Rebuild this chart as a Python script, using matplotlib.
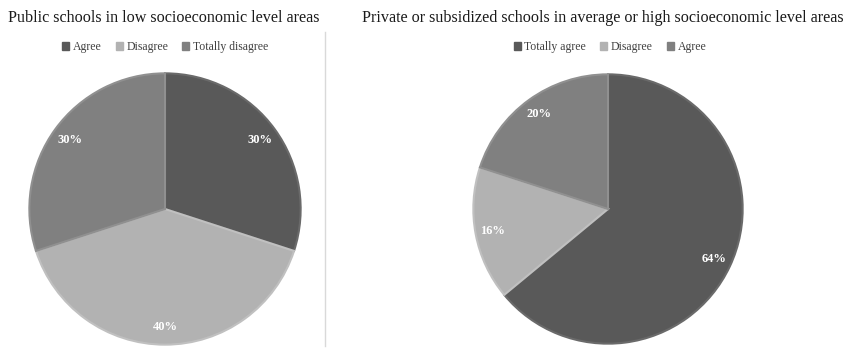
import matplotlib.pyplot as plt
from matplotlib.lines import Line2D
from matplotlib.patches import Patch

plt.rcParams['font.family'] = ['Liberation Serif', 'DejaVu Serif']

# data
left_title = 'Public schools in low socioeconomic level areas'
left_labels = ['Agree', 'Disagree', 'Totally disagree']
left_values = [30, 40, 30]

right_title = 'Private or subsidized schools in average or high socioeconomic level areas'
right_labels = ['Totally agree', 'Disagree', 'Agree']
right_values = [64, 16, 20]

dark, light, mid = '#595959', '#b2b2b2', '#808080'
edge = {dark: '#6a6a6a', light: '#c0c0c0', mid: '#909090'}
left_colors = [dark, light, mid]
right_colors = [dark, light, mid]

W, H = 852, 348
fig = plt.figure(figsize=(W / 100, H / 100), dpi=100)


def draw(cx, cy, r, values, colors):
    ax = fig.add_axes([(cx - r) / W, 1 - (cy + r) / H, 2 * r / W, 2 * r / H])
    wedges, texts, autotexts = ax.pie(values, colors=colors, startangle=90, counterclock=False,
                                      autopct='%d%%', pctdistance=0.87, radius=1,
                                      wedgeprops=dict(linewidth=1.5))
    for w, c in zip(wedges, colors):
        w.set_edgecolor(edge[c])
    for t in autotexts:
        t.set_color('white')
        t.set_fontsize(9)
        t.set_fontweight('bold')
    ax.set_xlim(-1.01, 1.01)
    ax.set_ylim(-1.01, 1.01)
    ax.set_aspect('equal')
    ax.axis('off')


draw(165, 209, 137, left_values, left_colors)
draw(608, 209, 136, right_values, right_colors)

# titles
fig.text(164 / W, 1 - 18 / H, left_title, ha='center', va='center', fontsize=11.6, color='#1a1a1a')
fig.text(603 / W, 1 - 18 / H, right_title, ha='center', va='center', fontsize=11.6, color='#1a1a1a')


def legend(cx, labels, colors):
    handles = [Patch(facecolor=c, edgecolor=c) for c in colors]
    fig.legend(handles, labels, loc='center', bbox_to_anchor=(cx / W, 1 - 47 / H), ncol=len(labels),
               frameon=False, fontsize=8.5, handlelength=0.6, handleheight=0.6, handletextpad=0.3,
               columnspacing=1.2, labelcolor='#404040')


legend(165, left_labels, left_colors)
legend(610, right_labels, right_colors)

# divider line
fig.add_artist(Line2D([325 / W, 325 / W], [1 - 32 / H, 1 - 346 / H], color='#d9d9d9', linewidth=1))

fig.savefig('out.png', dpi=100, facecolor='white')
